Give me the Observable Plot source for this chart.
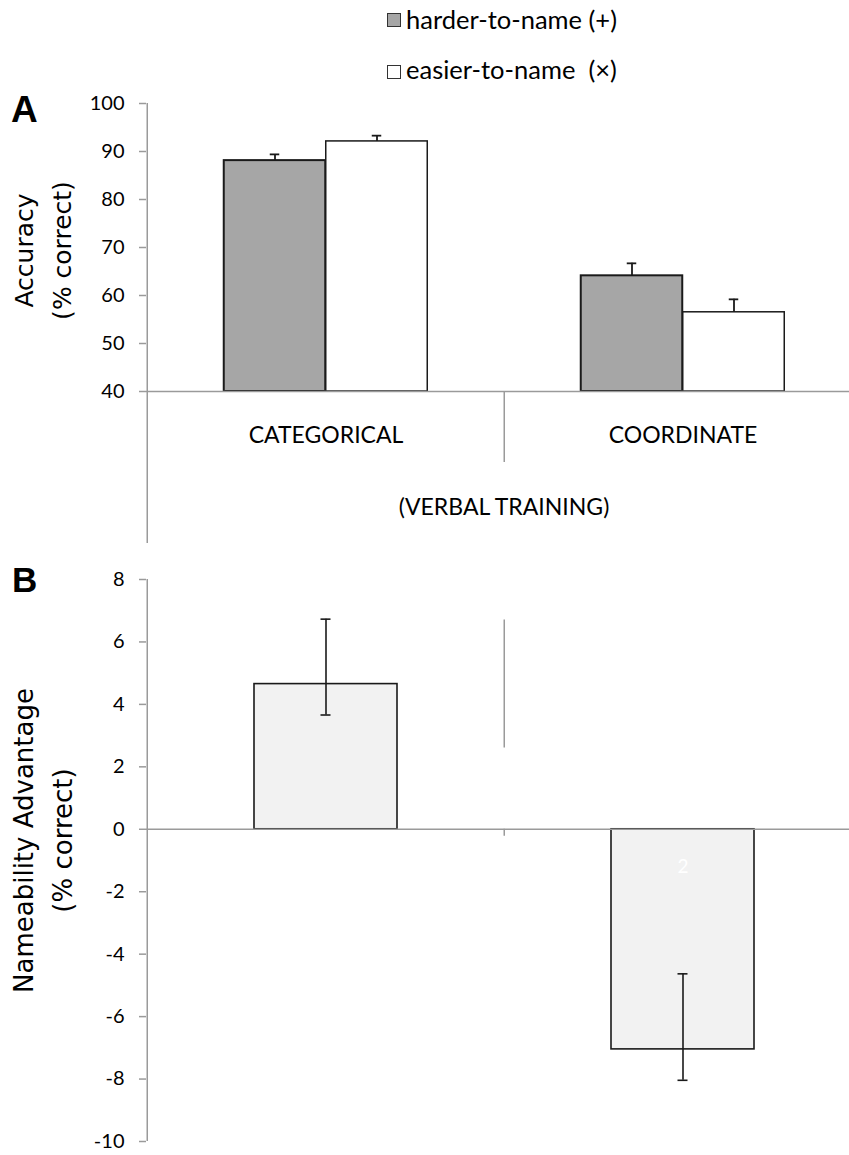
<!DOCTYPE html>
<html><head><meta charset="utf-8">
<script src="https://cdn.jsdelivr.net/npm/d3@7"></script>
<script src="https://cdn.jsdelivr.net/npm/@observablehq/plot@0.6"></script>
<style>
html,body{margin:0;padding:0;background:#fff;overflow:hidden}
#wrap{position:relative;width:849px;height:1155px;overflow:hidden;background:#fff}
#wrap svg{position:absolute;left:0;max-width:none !important}
.lg{position:absolute;font-family:Lato,sans-serif;font-size:25.5px;line-height:30px;white-space:pre;color:#000}
.sw{position:absolute;box-sizing:border-box;width:14px;height:14px;border:1px solid #333}
.pl{position:absolute;font-family:"Liberation Sans",Arial,sans-serif;font-weight:bold;line-height:1;color:#000}
g[aria-label="y-axis tick"]{stroke:#9a9a9a;stroke-width:1.5}
g[aria-label="y-axis"] .tick line{stroke:#9a9a9a;stroke-width:1.5}
</style></head><body>
<div id="wrap"></div>
<script>
// ---- data ----
const categories = ["CATEGORICAL", "COORDINATE"];
const series = ["harder-to-name (+)", "easier-to-name  (×)"];
const harder = [88.1, 64.1];
const harderErr = [1.3, 2.6];
const easier = [92.1, 56.5];
const easierErr = [1.2, 2.7];
const yTicksA = [40, 50, 60, 70, 80, 90, 100];
const advantage = [4.65, -7.05];
const advLow = [3.66, -8.04];
const advHigh = [6.73, -4.63];
const yTicksB = [-10, -8, -6, -4, -2, 0, 2, 4, 6, 8];
const barNotes = ["", "2"];
const xLabel = "(VERBAL TRAINING)";
const yLabelA = "Accuracy\n(% correct)";
const yLabelB = "Nameability Advantage\n(% correct)";
const panelLabels = ["A", "B"];

// ---- tables ----
const rowsA = categories.map((c, i) => ({category: c, harder: harder[i], harderErr: harderErr[i], easier: easier[i], easierErr: easierErr[i]}));
const rowsB = categories.map((c, i) => ({category: c, value: advantage[i], low: advLow[i], high: advHigh[i], note: barNotes[i]}));

// ---- layout ----
const W = 861, ML = 146;
const step = (W - ML) / categories.length;
const half = step / 2;
const barW = 102, capW = 10;
const gray = "#9a9a9a";
const ink = "#1a1a1a";
const wrap = document.getElementById("wrap");
const fmt = d => String(d);

// legend
const swFill = ["#a6a6a6", "#ffffff"];
const lgTop = [13, 65];
const txtTop = [4, 54];
series.forEach((s, i) => {
  const sw = document.createElement("div");
  sw.className = "sw";
  sw.style.left = "387px"; sw.style.top = lgTop[i] + "px"; sw.style.background = swFill[i];
  wrap.appendChild(sw);
  const t = document.createElement("div");
  t.className = "lg";
  t.style.left = "406px"; t.style.top = txtTop[i] + "px";
  t.textContent = s;
  wrap.appendChild(t);
});

// panel letters
[[panelLabels[0], 11, 91, 37], [panelLabels[1], 12, 562, 35]].forEach(([txt, l, t, fs]) => {
  const d = document.createElement("div");
  d.className = "pl";
  d.style.left = l + "px"; d.style.top = t + "px"; d.style.fontSize = fs + "px";
  d.textContent = txt;
  wrap.appendChild(d);
});

// ---- Panel A ----
const yDomA = [40, 100];
const plotA = Plot.plot({
  width: W, height: 480,
  marginLeft: ML, marginRight: 0, marginTop: 23, marginBottom: 169,
  style: {fontFamily: "Lato, sans-serif", fontSize: "20px", color: "#000", background: "transparent"},
  x: {type: "band", domain: categories, padding: 0, axis: null},
  y: {domain: yDomA, ticks: yTicksA, tickFormat: fmt, tickSize: 7, tickPadding: 15, label: null},
  marks: [
    Plot.barY(rowsA, {x: "category", y1: yDomA[0], y2: "harder", fill: "#a6a6a6", stroke: ink, strokeWidth: 2, insetLeft: half - barW, insetRight: half}),
    Plot.barY(rowsA, {x: "category", y1: yDomA[0], y2: "easier", fill: "#ffffff", stroke: ink, strokeWidth: 1.5, insetLeft: half, insetRight: half - barW}),
    Plot.ruleX(rowsA, {x: "category", y1: "harder", y2: d => d.harder + d.harderErr, dx: -barW / 2, stroke: ink, strokeWidth: 1.8}),
    Plot.tickY(rowsA, {x: "category", y: d => d.harder + d.harderErr, insetLeft: half - barW / 2 - capW / 2, insetRight: half + barW / 2 - capW / 2, stroke: ink, strokeWidth: 1.8}),
    Plot.ruleX(rowsA, {x: "category", y1: "easier", y2: d => d.easier + d.easierErr, dx: barW / 2, stroke: ink, strokeWidth: 1.8}),
    Plot.tickY(rowsA, {x: "category", y: d => d.easier + d.easierErr, insetLeft: half + barW / 2 - capW / 2, insetRight: half - barW / 2 - capW / 2, stroke: ink, strokeWidth: 1.8}),
    Plot.ruleY([yDomA[0]], {stroke: gray, strokeWidth: 1.5}),
    Plot.ruleX([categories[0]], {x: d => d, dx: -half, stroke: gray, strokeWidth: 1.5, insetBottom: -152}),
    Plot.ruleX([categories[1]], {x: d => d, dx: -half, y1: yDomA[0], y2: yDomA[0], insetBottom: -71, stroke: gray, strokeWidth: 1.5}),
    Plot.text(categories, {x: d => d, text: d => d, frameAnchor: "bottom", lineAnchor: "middle", dy: 44, fontSize: 23, fill: "#000"}),
    Plot.text([xLabel], {text: d => d, frameAnchor: "bottom", lineAnchor: "middle", dy: 116, fontSize: 23, fill: "#000"}),
    Plot.text([yLabelA], {text: d => d, frameAnchor: "left", textAnchor: "middle", lineAnchor: "middle", rotate: -90, dx: -107, dy: 3, fontFamily: "DejaVu Sans", fontSize: 25, lineHeight: 1.55, fill: "#000"})
  ]
});
plotA.style.top = "80px";
wrap.appendChild(plotA);

// ---- Panel B ----
const bwB = step * (1 - 0.6);
const plotB = Plot.plot({
  width: W, height: 595,
  marginLeft: ML, marginRight: 0, marginTop: 19, marginBottom: 14,
  style: {fontFamily: "Lato, sans-serif", fontSize: "20px", color: "#000", background: "transparent"},
  x: {type: "band", domain: categories, paddingInner: 0.6, paddingOuter: 0.3, axis: null},
  y: {domain: [-10, 8], ticks: yTicksB, tickFormat: fmt, tickSize: 7, tickPadding: 15, label: null},
  marks: [
    Plot.barY(rowsB, {x: "category", y: "value", fill: "#f2f2f2", stroke: ink, strokeWidth: 1.6}),
    Plot.ruleX(rowsB, {x: "category", y1: "low", y2: "high", stroke: ink, strokeWidth: 1.6}),
    Plot.tickY(rowsB, {x: "category", y: "low", insetLeft: bwB / 2 - capW / 2, insetRight: bwB / 2 - capW / 2, stroke: ink, strokeWidth: 1.6}),
    Plot.tickY(rowsB, {x: "category", y: "high", insetLeft: bwB / 2 - capW / 2, insetRight: bwB / 2 - capW / 2, stroke: ink, strokeWidth: 1.6}),
    Plot.text(rowsB, {x: "category", y: 0, text: "note", dy: 38, fill: "#ffffff", fontSize: 19}),
    Plot.ruleY([0], {stroke: gray, strokeWidth: 1.5}),
    Plot.ruleX([categories[0]], {x: d => d, dx: -half, stroke: gray, strokeWidth: 1.5}),
    Plot.ruleX([categories[1]], {x: d => d, dx: -half, y1: 6.7, y2: 2.6, stroke: gray, strokeWidth: 1.5}),
    Plot.ruleX([categories[1]], {x: d => d, dx: -half, y1: 0, y2: 0, insetBottom: -7, stroke: gray, strokeWidth: 1.5}),
    Plot.text([yLabelB], {text: d => d, frameAnchor: "left", textAnchor: "middle", lineAnchor: "middle", rotate: -90, dx: -106, dy: -20, fontFamily: "DejaVu Sans", fontSize: 26, lineHeight: 1.5, fill: "#000"})
  ]
});
plotB.style.top = "560px";
wrap.appendChild(plotB);
</script>
</body></html>
